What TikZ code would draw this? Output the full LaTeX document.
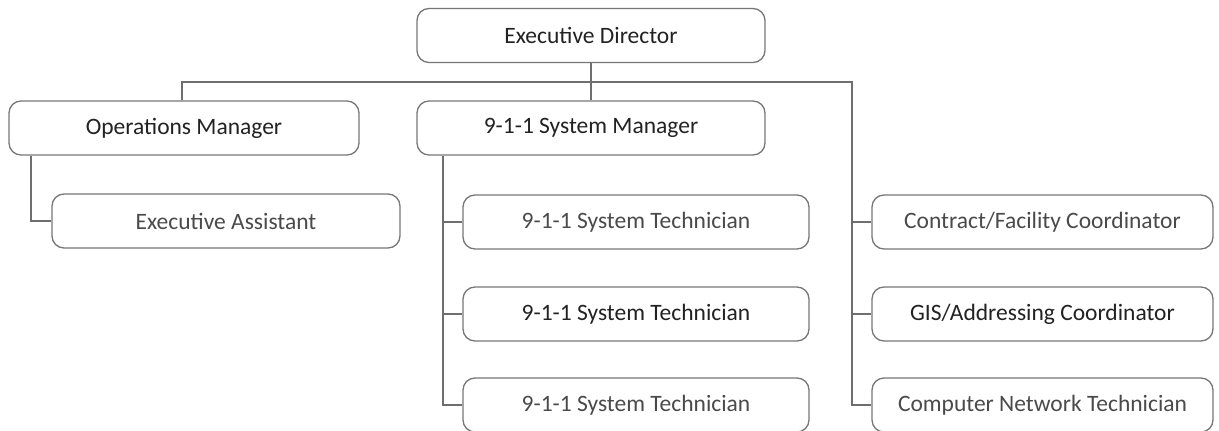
\documentclass[tikz,border=0pt]{standalone}
\usepackage{fontspec}
\setmainfont{Carlito}
\definecolor{linegray}{HTML}{6E6E6E}
\definecolor{boxgray}{HTML}{777777}
\definecolor{darktext}{HTML}{222222}
\definecolor{lighttext}{HTML}{4A4A4A}
\tikzset{
  orgbox/.style={draw=boxgray, line width=1.3pt, rounded corners=12pt, fill=white,
    minimum height=54pt, inner sep=0pt, font=\fontsize{23.5}{28}\selectfont, text=darktext},
  lightbox/.style={orgbox, text=lighttext},
  conn/.style={draw=linegray, line width=1.3pt}
}
\begin{document}
\begin{tikzpicture}[x=1pt,y=-1pt]
\useasboundingbox (0,0) rectangle (1219,431);
\clip (0,0) rectangle (1219,431);
\fill[white] (0,0) rectangle (1219,431);
% coordinates for the bus lines
\coordinate (busL) at (182,82);
\coordinate (busR) at (852,82);
\coordinate (omx) at (31,0);
\coordinate (smx) at (443,0);
% nodes
\node[orgbox, minimum width=348pt] (ED) at (591,35.5) {Executive Director};
\node[orgbox, minimum width=350pt] (OM) at (184,128) {Operations Manager};
\node[orgbox, minimum width=348pt] (SM) at (591,128) {9-1-1 System Manager};
\node[lightbox, minimum width=348pt] (EA) at (226,221) {Executive Assistant};
\node[lightbox, minimum width=346pt] (T1) at (636,222) {9-1-1 System Technician};
\node[orgbox, minimum width=346pt] (T2) at (636,314) {9-1-1 System Technician};
\node[lightbox, minimum width=346pt] (T3) at (636,405) {9-1-1 System Technician};
\node[lightbox, minimum width=341pt] (C1) at (1042.5,222) {Contract/Facility Coordinator};
\node[orgbox, minimum width=341pt] (C2) at (1042.5,314) {GIS/Addressing Coordinator};
\node[lightbox, minimum width=341pt] (C3) at (1042.5,405) {Computer Network Technician};
% connectors
\draw[conn] (ED.south -| SM.north) -- (SM.north);
\draw[conn] (OM.north -| busL) -- (busL) -- (busR) -- (busR |- C3) -- (C3.west);
\draw[conn] (busR |- C1) -- (C1.west);
\draw[conn] (busR |- C2) -- (C2.west);
\draw[conn] (OM.south -| omx) |- (EA.west);
\draw[conn] (SM.south -| smx) |- (T3.west);
\draw[conn] (smx |- T1) -- (T1.west);
\draw[conn] (smx |- T2) -- (T2.west);
\end{tikzpicture}
\end{document}
